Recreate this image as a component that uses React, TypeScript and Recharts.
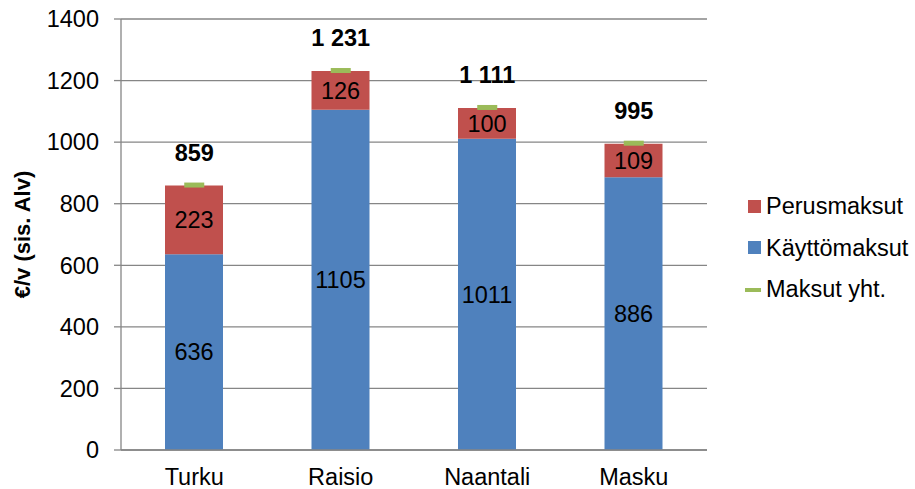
import React from 'react';
import { ComposedChart, Bar, Line, XAxis, YAxis, CartesianGrid, LabelList } from 'recharts';

const kunnat = ['Turku', 'Raisio', 'Naantali', 'Masku'];
const kayttomaksut = [636, 1105, 1011, 886];
const perusmaksut = [223, 126, 100, 109];
const maksutYht = [859, 1231, 1111, 995];
const yTicks = [0, 200, 400, 600, 800, 1000, 1200, 1400];

const data = kunnat.map((name, i) => ({
  name,
  kaytto: kayttomaksut[i],
  perus: perusmaksut[i],
  total: maksutYht[i]
}));

const BLUE = '#4F81BD';
const RED = '#C0504D';
const GREEN = '#9BBB59';
const GRID = '#868686';
const FONT = '"Liberation Sans", Arial, sans-serif';
const FS = 23.5;

const fmtTotal = (v: any) => String(v).replace(/\B(?=(\d{3})+(?!\d))/g, ' ');

function TotalMark(props: any) {
  const { cx, cy, index } = props;
  return <rect key={'m' + index} x={cx - 10} y={cy - 3} width={20} height={5} fill={GREEN} />;
}

// legend drawn by hand, Excel style
function LegendBox() {
  const items = [
    { label: 'Perusmaksut', color: RED, kind: 'square' },
    { label: 'Käyttömaksut', color: BLUE, kind: 'square' },
    { label: 'Maksut yht.', color: GREEN, kind: 'line' }
  ];
  return (
    <div style={{ position: 'absolute', left: 745, top: 186, fontFamily: FONT, fontSize: FS, color: '#000', lineHeight: 1 }}>
      {items.map((it) => (
        <div key={it.label} style={{ display: 'flex', alignItems: 'center', height: 41.5 }}>
          <span style={{ display: 'inline-block', width: 17, marginRight: 4, position: 'relative', height: 14 }}>
            {it.kind === 'square' ? (
              <span style={{ position: 'absolute', left: 3, top: 0, width: 13, height: 13, background: it.color }} />
            ) : (
              <span style={{ position: 'absolute', left: 0, top: 5, width: 16, height: 4, background: it.color }} />
            )}
          </span>
          <span>{it.label}</span>
        </div>
      ))}
    </div>
  );
}

export default function App() {
  return (
    <div style={{ position: 'absolute', left: 0, top: 0, width: 915, height: 489, background: '#fff', fontFamily: FONT }}>
      <ComposedChart width={915} height={489} data={data} margin={{ top: 19, right: 208, bottom: 0, left: 0 }}>
        <CartesianGrid vertical={false} stroke={GRID} strokeWidth={1.3} />
        <XAxis
          dataKey="name"
          height={39}
          tickLine={false}
          tickSize={0}
          tickMargin={18}
          axisLine={{ stroke: GRID, strokeWidth: 1.3 }}
          tick={{ fill: '#000', fontSize: FS, fontFamily: FONT }}
        />
        <YAxis
          width={121}
          domain={[0, 1400]}
          ticks={yTicks}
          interval={0}
          tickSize={7}
          tickMargin={15}
          tickLine={{ stroke: GRID, strokeWidth: 1.3 }}
          axisLine={{ stroke: GRID, strokeWidth: 1.3 }}
          tick={{ fill: '#000', fontSize: FS, fontFamily: FONT }}
          label={{
            value: '€/v (sis. Alv)',
            angle: -90,
            position: 'insideLeft',
            offset: 0,
            dx: 22,
            style: { fontSize: 22, fontWeight: 'bold', fill: '#000', fontFamily: FONT, textAnchor: 'middle' }
          }}
        />
        <Bar dataKey="kaytto" name="Käyttömaksut" stackId="a" fill={BLUE} barSize={58} isAnimationActive={false}>
          <LabelList dataKey="kaytto" position="center" fill="#000" fontSize={FS} fontFamily={FONT} />
        </Bar>
        <Bar dataKey="perus" name="Perusmaksut" stackId="a" fill={RED} barSize={58} isAnimationActive={false}>
          <LabelList dataKey="perus" position="center" fill="#000" fontSize={FS} fontFamily={FONT} />
        </Bar>
        <Line
          dataKey="total"
          name="Maksut yht."
          stroke="none"
          dot={TotalMark}
          activeDot={false}
          isAnimationActive={false}
        >
          <LabelList
            dataKey="total"
            position="top"
            offset={25}
            formatter={fmtTotal}
            fill="#000"
            fontSize={FS}
            fontWeight="bold"
            fontFamily={FONT}
          />
        </Line>
      </ComposedChart>
      <LegendBox />
    </div>
  );
}
